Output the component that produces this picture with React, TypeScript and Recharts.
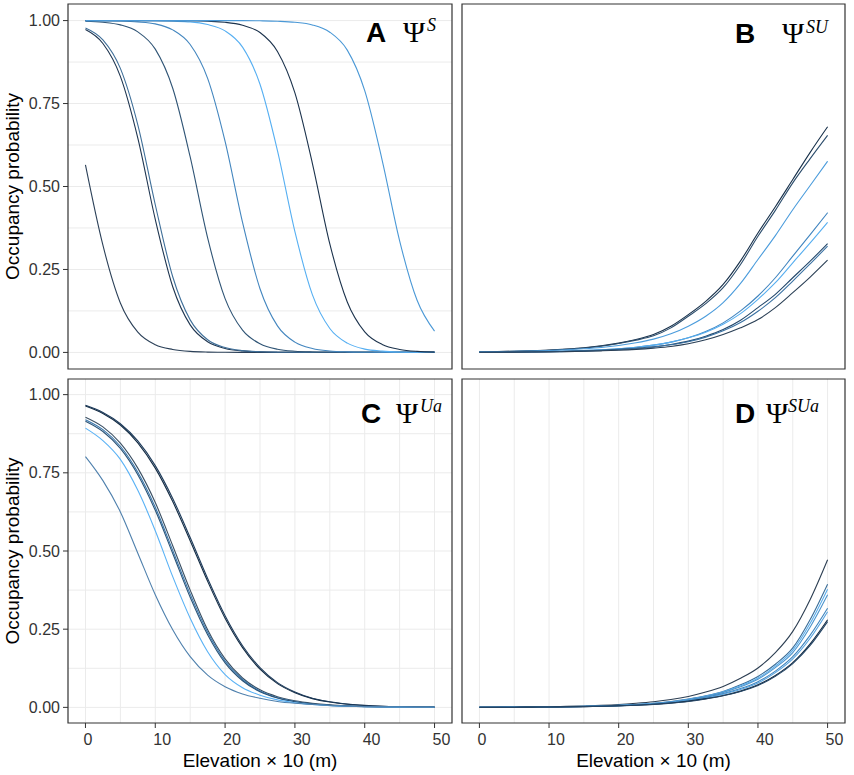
import React from "react";
import {
  LineChart,
  Line,
  XAxis,
  YAxis,
  CartesianGrid,
  ReferenceArea,
} from "recharts";

// elevation (x 10 m) sampled along each curve
const ELEVATION = [
  0, 2.5, 5, 7.5, 10, 12.5, 15, 17.5, 20, 22.5, 25, 27.5, 30, 32.5, 35, 37.5,
  40, 42.5, 45, 47.5, 50,
];

const X_TICKS = [0, 10, 20, 30, 40, 50];
const Y_TICKS = [0, 0.25, 0.5, 0.75, 1];
const GRID_X = [0, 5, 10, 15, 20, 25, 30, 35, 40, 45, 50];
const GRID_Y = [0, 0.125, 0.25, 0.375, 0.5, 0.625, 0.75, 0.875, 1];

// A: psi S
const psiS1 = [0.565, 0.323, 0.149, 0.061, 0.023, 0.009, 0.003, 0.001, 0.0004, 0.0002, 0.0001, 0, 0, 0, 0, 0, 0, 0, 0, 0, 0];
const psiS2 = [0.973, 0.931, 0.832, 0.646, 0.401, 0.198, 0.083, 0.032, 0.012, 0.0045, 0.0017, 0.0006, 0.0002, 0.0001, 0, 0, 0, 0, 0, 0, 0];
const psiS3 = [0.978, 0.942, 0.856, 0.686, 0.445, 0.228, 0.098, 0.038, 0.0145, 0.0054, 0.002, 0.0007, 0.0003, 0.0001, 0, 0, 0, 0, 0, 0, 0];
const psiS4 = [0.998, 0.995, 0.987, 0.966, 0.914, 0.796, 0.589, 0.345, 0.162, 0.067, 0.026, 0.0096, 0.0035, 0.0013, 0.0005, 0.0002, 0.0001, 0, 0, 0, 0];
const psiS5 = [1, 0.9995, 0.9986, 0.996, 0.99, 0.972, 0.928, 0.826, 0.636, 0.392, 0.192, 0.08, 0.031, 0.0117, 0.0043, 0.0016, 0.0006, 0.0002, 0.0001, 0, 0];
const psiS6 = [1, 1, 0.9999, 0.9998, 0.9994, 0.998, 0.996, 0.988, 0.969, 0.92, 0.808, 0.608, 0.364, 0.174, 0.072, 0.028, 0.01, 0.004, 0.0014, 0.0005, 0.0002];
const psiS7 = [1, 1, 1, 1, 0.9999, 0.9997, 0.9993, 0.998, 0.995, 0.986, 0.964, 0.907, 0.782, 0.57, 0.327, 0.152, 0.062, 0.024, 0.009, 0.003, 0.001];
const psiS8 = [1, 1, 1, 1, 1, 1, 1, 1, 1, 1, 0.9993, 0.998, 0.995, 0.987, 0.965, 0.911, 0.789, 0.579, 0.336, 0.157, 0.064];

// B: psi SU
const psiSU1 = [0.0017, 0.0025, 0.0035, 0.005, 0.007, 0.01, 0.014, 0.02, 0.028, 0.039, 0.054, 0.079, 0.114, 0.154, 0.205, 0.276, 0.36, 0.439, 0.521, 0.603, 0.68];
const psiSU2 = [0.0016, 0.0023, 0.0033, 0.0047, 0.0067, 0.0095, 0.0134, 0.019, 0.027, 0.037, 0.05, 0.074, 0.109, 0.147, 0.195, 0.265, 0.35, 0.428, 0.511, 0.584, 0.654];
const psiSU3 = [0.0016, 0.0022, 0.003, 0.0042, 0.0058, 0.008, 0.011, 0.015, 0.021, 0.029, 0.04, 0.056, 0.079, 0.109, 0.15, 0.208, 0.28, 0.352, 0.43, 0.503, 0.576];
const psiSU4 = [0.0007, 0.001, 0.0014, 0.002, 0.0028, 0.004, 0.0055, 0.0078, 0.011, 0.0155, 0.022, 0.031, 0.044, 0.063, 0.089, 0.125, 0.17, 0.225, 0.29, 0.355, 0.421];
const psiSU5 = [0.0007, 0.001, 0.0014, 0.002, 0.0028, 0.004, 0.0055, 0.0078, 0.011, 0.0155, 0.022, 0.031, 0.044, 0.061, 0.085, 0.117, 0.16, 0.21, 0.27, 0.33, 0.392];
const psiSU6 = [0.0006, 0.0008, 0.0011, 0.0016, 0.0022, 0.0032, 0.0045, 0.0063, 0.009, 0.0125, 0.017, 0.024, 0.034, 0.049, 0.069, 0.097, 0.135, 0.175, 0.225, 0.275, 0.328];
const psiSU7 = [0.0005, 0.0007, 0.001, 0.0014, 0.002, 0.0028, 0.004, 0.0057, 0.008, 0.0113, 0.016, 0.023, 0.032, 0.046, 0.065, 0.09, 0.124, 0.165, 0.215, 0.267, 0.32];
const psiSU8 = [0.0004, 0.0006, 0.0008, 0.0011, 0.0016, 0.0023, 0.0033, 0.0047, 0.0065, 0.0092, 0.013, 0.018, 0.026, 0.038, 0.054, 0.074, 0.099, 0.135, 0.18, 0.227, 0.278];

// C: psi Ua
const psiUa1 = [0.964, 0.94, 0.903, 0.846, 0.765, 0.658, 0.533, 0.403, 0.285, 0.191, 0.122, 0.076, 0.047, 0.028, 0.017, 0.01, 0.006, 0.0035, 0.0021, 0.0012, 0.0007];
const psiUa2 = [0.966, 0.943, 0.907, 0.852, 0.773, 0.668, 0.543, 0.412, 0.293, 0.197, 0.127, 0.079, 0.049, 0.029, 0.018, 0.011, 0.0065, 0.0038, 0.0023, 0.0013, 0.0008];
const psiUa3 = [0.928, 0.897, 0.845, 0.765, 0.655, 0.517, 0.375, 0.248, 0.155, 0.094, 0.056, 0.034, 0.021, 0.013, 0.008, 0.005, 0.003, 0.002, 0.0012, 0.0008, 0.0005];
const psiUa4 = [0.92, 0.888, 0.835, 0.752, 0.64, 0.502, 0.362, 0.24, 0.148, 0.089, 0.052, 0.031, 0.019, 0.011, 0.007, 0.004, 0.0025, 0.0015, 0.001, 0.0006, 0.0004];
const psiUa5 = [0.915, 0.882, 0.828, 0.744, 0.63, 0.492, 0.352, 0.232, 0.142, 0.085, 0.05, 0.03, 0.018, 0.011, 0.0065, 0.004, 0.0024, 0.0015, 0.0009, 0.0006, 0.0004];
const psiUa6 = [0.893, 0.853, 0.793, 0.694, 0.565, 0.418, 0.285, 0.178, 0.105, 0.063, 0.039, 0.024, 0.015, 0.009, 0.0055, 0.0035, 0.002, 0.0013, 0.0008, 0.0005, 0.0003];
const psiUa7 = [0.802, 0.725, 0.625, 0.493, 0.36, 0.248, 0.162, 0.103, 0.066, 0.043, 0.029, 0.019, 0.013, 0.009, 0.006, 0.004, 0.003, 0.002, 0.0013, 0.0009, 0.0006];

// D: psi SUa
const psiSUa1 = [0.0005, 0.0008, 0.0011, 0.0016, 0.0022, 0.0032, 0.0045, 0.0064, 0.009, 0.013, 0.018, 0.025, 0.035, 0.049, 0.067, 0.093, 0.126, 0.175, 0.243, 0.345, 0.472];
const psiSUa2 = [0.0004, 0.0006, 0.0008, 0.0011, 0.0016, 0.0023, 0.0033, 0.0046, 0.0065, 0.0092, 0.013, 0.019, 0.027, 0.037, 0.051, 0.072, 0.099, 0.138, 0.19, 0.281, 0.394];
const psiSUa3 = [0.0004, 0.0006, 0.0008, 0.0011, 0.0016, 0.0022, 0.0032, 0.0045, 0.0063, 0.009, 0.013, 0.018, 0.026, 0.036, 0.05, 0.069, 0.094, 0.132, 0.183, 0.269, 0.378];
const psiSUa4 = [0.0004, 0.0006, 0.0008, 0.0011, 0.0015, 0.0021, 0.003, 0.0042, 0.006, 0.0086, 0.012, 0.017, 0.025, 0.035, 0.048, 0.066, 0.09, 0.127, 0.175, 0.257, 0.36];
const psiSUa5 = [0.0004, 0.0005, 0.0007, 0.001, 0.0014, 0.002, 0.0028, 0.004, 0.0056, 0.008, 0.011, 0.016, 0.023, 0.032, 0.044, 0.06, 0.082, 0.116, 0.162, 0.231, 0.317];
const psiSUa6 = [0.0003, 0.0005, 0.0007, 0.001, 0.0013, 0.0019, 0.0027, 0.0038, 0.0054, 0.0077, 0.011, 0.015, 0.022, 0.03, 0.042, 0.057, 0.078, 0.111, 0.155, 0.221, 0.306];
const psiSUa7 = [0.0003, 0.0004, 0.0006, 0.0009, 0.0012, 0.0018, 0.0025, 0.0035, 0.005, 0.007, 0.01, 0.014, 0.02, 0.028, 0.038, 0.052, 0.072, 0.102, 0.143, 0.203, 0.28];
const psiSUa8 = [0.0003, 0.0004, 0.0006, 0.0008, 0.0012, 0.0017, 0.0024, 0.0034, 0.0048, 0.0068, 0.0095, 0.0135, 0.019, 0.027, 0.037, 0.051, 0.07, 0.099, 0.14, 0.198, 0.274];

const COLORS_S = ["#2b4058", "#1e3550", "#3f6f99", "#2f5475", "#4386bf", "#56aff2", "#1b324c", "#4a98d6"];
const COLORS_SU = ["#17304a", "#2c4d6c", "#4b9cdc", "#3f84bf", "#56aef0", "#22476b", "#3a72a3", "#2a3f55"];
const COLORS_UA = ["#132b43", "#1c3a5a", "#3a4f63", "#3676ad", "#2a5377", "#5ab2f5", "#4f80ad"];
const COLORS_SUA = ["#2c3e52", "#3a6d98", "#5aaeed", "#4d94cc", "#3f84bd", "#55a3e0", "#132b43", "#244565"];

const SANS = "'Liberation Sans', Arial, sans-serif";
const SERIF = "'Liberation Serif', 'Times New Roman', serif";

const buildRows = (xs: number[], curves: number[][]) =>
  xs.map((x, i) => {
    const row: Record<string, number> = { x };
    curves.forEach((c, j) => {
      row[`c${j}`] = c[i];
    });
    return row;
  });

const XTick = (props: any) => {
  const { x, y, payload } = props;
  return (
    <text x={x - 2} y={y} dy="0.71em" textAnchor="start" fontSize={16} fill="#333" fontFamily={SANS}>
      {payload.value}
    </text>
  );
};

type PanelProps = {
  left: number;
  top: number;
  width: number;
  height: number;
  rows: Record<string, number>[];
  colors: string[];
  xLabels: boolean;
  yLabels: boolean;
};

const Panel = ({ left, top, width, height, rows, colors, xLabels, yLabels }: PanelProps) => (
  <div style={{ position: "absolute", left, top }}>
    <LineChart width={width} height={height} data={rows} margin={{ top: 4, right: 2, bottom: 0, left: 0 }}>
      <CartesianGrid stroke="#EBEBEB" strokeWidth={1} horizontalValues={GRID_Y} verticalValues={GRID_X} />
      <XAxis
        dataKey="x"
        type="number"
        domain={[-2.5, 52.5]}
        ticks={X_TICKS}
        axisLine={false}
        tickLine={{ stroke: "#333" }}
        tickSize={5}
        tickMargin={6}
        height={xLabels ? 52 : 8}
        tick={xLabels ? <XTick /> : false}
        label={
          xLabels
            ? {
                value: "Elevation × 10 (m)",
                position: "insideBottom",
                offset: 8,
                style: { fontSize: 19, fill: "#000", fontFamily: SANS },
              }
            : undefined
        }
      />
      <YAxis
        type="number"
        domain={[-0.05, 1.05]}
        ticks={Y_TICKS}
        axisLine={false}
        tickLine={{ stroke: "#333" }}
        tickSize={5}
        tickMargin={3}
        width={yLabels ? 68 : 8}
        tickFormatter={(v: number) => v.toFixed(2)}
        tick={yLabels ? { fontSize: 16, fill: "#333", fontFamily: SANS } : false}
        label={
          yLabels
            ? {
                value: "Occupancy probability",
                angle: -90,
                position: "insideLeft",
                offset: 12,
                style: { textAnchor: "middle", fontSize: 19, fill: "#000", fontFamily: SANS },
              }
            : undefined
        }
      />
      {colors.map((c, j) => (
        <Line
          key={`c${j}`}
          dataKey={`c${j}`}
          type="monotone"
          stroke={c}
          strokeWidth={1.1}
          dot={false}
          isAnimationActive={false}
        />
      ))}
      <ReferenceArea
        x1={-2.5}
        x2={52.5}
        y1={-0.05}
        y2={1.05}
        fill="none"
        fillOpacity={0}
        stroke="#333"
        strokeWidth={1.2}
        ifOverflow="visible"
      />
    </LineChart>
  </div>
);

const TAGS = [
  { letter: "A", sup: "S", lx: 366, px: 403, sx: 427, by: 42, sy: 31 },
  { letter: "B", sup: "SU", lx: 735, px: 782, sx: 806, by: 43, sy: 33 },
  { letter: "C", sup: "Ua", lx: 361, px: 396, sx: 420, by: 423, sy: 412 },
  { letter: "D", sup: "SUa", lx: 735, px: 766, sx: 788, by: 423, sy: 412 },
];

export default function App() {
  const rowsS = buildRows(ELEVATION, [psiS1, psiS2, psiS3, psiS4, psiS5, psiS6, psiS7, psiS8]);
  const rowsSU = buildRows(ELEVATION, [psiSU1, psiSU2, psiSU3, psiSU4, psiSU5, psiSU6, psiSU7, psiSU8]);
  const rowsUa = buildRows(ELEVATION, [psiUa1, psiUa2, psiUa3, psiUa4, psiUa5, psiUa6, psiUa7]);
  const rowsSUa = buildRows(ELEVATION, [psiSUa1, psiSUa2, psiSUa3, psiSUa4, psiSUa5, psiSUa6, psiSUa7, psiSUa8]);

  return (
    <div style={{ position: "absolute", left: 0, top: 0, width: 854, height: 775, background: "#fff" }}>
      <Panel left={0} top={0} width={454} height={377} rows={rowsS} colors={COLORS_S} xLabels={false} yLabels />
      <Panel left={454} top={0} width={393} height={377} rows={rowsSU} colors={COLORS_SU} xLabels={false} yLabels={false} />
      <Panel left={0} top={375} width={454} height={400} rows={rowsUa} colors={COLORS_UA} xLabels yLabels />
      <Panel left={454} top={375} width={393} height={400} rows={rowsSUa} colors={COLORS_SUA} xLabels yLabels={false} />
      <svg width={854} height={775} style={{ position: "absolute", left: 0, top: 0, pointerEvents: "none" }}>
        {TAGS.map((t) => (
          <g key={t.letter}>
            <text x={t.lx} y={t.by} fontSize={28} fontWeight="bold" fontFamily={SANS} fill="#000">
              {t.letter}
            </text>
            <text x={t.px} y={t.by} fontSize={30} fontFamily={SERIF} fill="#000">
              Ψ
            </text>
            <text x={t.sx} y={t.sy} fontSize={18} fontStyle="italic" fontFamily={SERIF} fill="#000">
              {t.sup}
            </text>
          </g>
        ))}
      </svg>
    </div>
  );
}
